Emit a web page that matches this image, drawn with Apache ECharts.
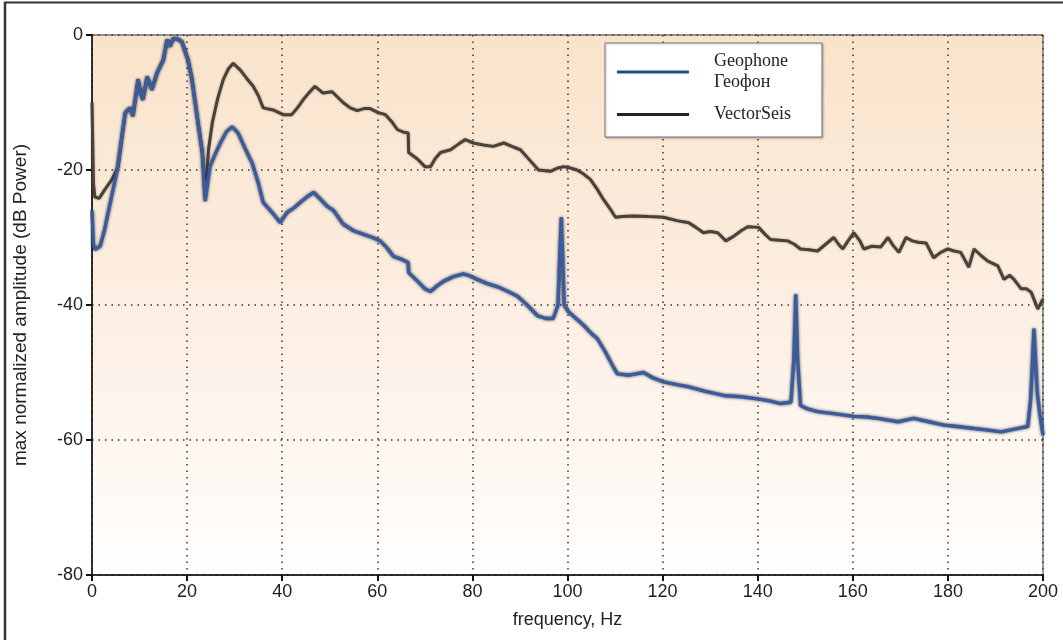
<!DOCTYPE html>
<html>
<head>
<meta charset="utf-8">
<script src="https://cdn.jsdelivr.net/npm/echarts@6/dist/echarts.min.js"></script>
<style>
html,body{margin:0;padding:0;background:#fff;}
#chart{width:1063px;height:640px;}
</style>
</head>
<body>
<div id="chart"></div>
<script>
// ---- data: [frequency Hz, dB] ----
const xTicks = [0, 20, 40, 60, 80, 100, 120, 140, 160, 180, 200];
const yTicks = [-80, -60, -40, -20, 0];
const seriesNames = ['Geophone', 'VectorSeis'];
const legendLabels = ['Geophone\nГеофон', 'VectorSeis'];

const geophone = [
[0,-26],[0.3,-31],[0.6,-31.8],[1.7,-31.3],[2.6,-29],[3.4,-26.3],[4.4,-23],[5.3,-20],[6.3,-15],[7,-11.5],[8,-10.8],[8.6,-12],[9.7,-6.6],[10.2,-8.5],[10.7,-9.6],[11.6,-6.2],[12.6,-8.1],[13.7,-5.6],[15,-3.7],[15.8,-0.7],[16.4,-1.7],[17.1,-0.5],[18,-0.6],[18.9,-1],[20.2,-3.7],[21,-6.5],[21.7,-10],[22.5,-14],[23.2,-17.4],[23.8,-24.6],[24.3,-22],[24.8,-19.5],[26,-17.5],[27,-16],[28.3,-14.3],[29.5,-13.6],[30.7,-14.5],[32.2,-16.8],[33.7,-19],[35,-22],[36,-24.8],[37.9,-26.3],[39.6,-27.8],[41,-26.3],[42.5,-25.6],[43.8,-24.8],[45.2,-24],[46.6,-23.3],[48,-24.3],[49.5,-25.4],[50.8,-26],[52.8,-28],[55,-29],[57,-29.5],[59,-30],[60.6,-30.5],[62,-31.5],[63.4,-32.8],[65,-33.2],[66.5,-33.7],[66.6,-35.2],[68.5,-36.5],[70,-37.6],[71.2,-38],[72.5,-37.2],[73.9,-36.5],[76,-35.8],[78.1,-35.4],[79.5,-35.7],[81,-36.2],[83,-36.8],[85.3,-37.3],[87.5,-38],[89.5,-38.7],[91.5,-40],[93.7,-41.6],[95.5,-42],[97,-42],[98,-40],[98.4,-32],[98.7,-27],[99,-33],[99.3,-40],[100.2,-41],[101.8,-42],[103.4,-43],[105,-44.2],[106.3,-45],[108,-47],[109.5,-49],[110.5,-50.2],[113,-50.4],[116,-50],[118,-50.8],[120.2,-51.4],[123,-51.8],[125.3,-52.1],[129,-52.8],[132.8,-53.4],[136.5,-53.6],[140,-53.9],[142.5,-54.2],[144.8,-54.6],[147,-54.4],[147.6,-48],[148,-38.4],[148.4,-48],[149,-54.9],[150.5,-55.4],[152.6,-55.8],[156,-56.1],[160.2,-56.5],[163,-56.6],[165.3,-56.8],[169.5,-57.3],[172.8,-56.8],[176,-57.3],[179.2,-57.8],[182,-58],[185.5,-58.3],[188,-58.5],[191.2,-58.8],[194,-58.4],[196.8,-58],[197.4,-54],[198.1,-43.5],[198.8,-53],[199.3,-56],[200,-59.3]
];

const vectorSeis = [
[0,-10],[0.3,-22],[0.6,-24],[1.5,-24.2],[2.7,-22.9],[4.2,-21.4],[5.5,-19.5],[6.3,-15],[7,-11.5],[8,-10.8],[8.6,-12],[9.7,-6.6],[10.2,-8.5],[10.7,-9.6],[11.6,-6.2],[12.6,-8.1],[13.7,-5.6],[15,-3.7],[15.8,-0.7],[16.4,-1.7],[17.1,-0.5],[18,-0.6],[18.9,-1],[20.2,-3.7],[21,-6.5],[21.7,-10],[22.5,-14],[23.2,-17.4],[23.8,-24],[24.5,-17],[25.3,-13],[26.4,-9.5],[27.6,-6.6],[28.7,-5],[29.7,-4.2],[31.2,-5.2],[32.5,-6.4],[33.9,-7.6],[35,-9],[36,-10.8],[38.1,-11.1],[40.2,-11.8],[42,-11.8],[43.2,-10.8],[44.4,-9.6],[45.7,-8.5],[46.9,-7.6],[48.6,-8.6],[50.5,-8.4],[52.8,-10],[54.3,-10.8],[55.8,-11.2],[57.2,-10.9],[58.5,-10.9],[60.2,-11.5],[61.7,-11.8],[63,-12.8],[64.2,-14],[65.5,-14.4],[66.5,-14.5],[66.6,-17.4],[68.5,-18.4],[70,-19.5],[71.2,-19.5],[72.2,-18.3],[73.3,-17.4],[75.4,-17],[77,-16.2],[78.5,-15.5],[80.2,-16],[82.3,-16.3],[84.4,-16.5],[86.6,-16],[88.3,-16.5],[90.1,-17],[92,-18.5],[93.9,-20],[96.4,-20.2],[98,-19.7],[99.2,-19.5],[100.6,-19.7],[102,-20],[103.4,-20.6],[104.8,-21.4],[106.2,-22.8],[107.6,-24.4],[109,-25.8],[110.1,-27],[111.5,-26.9],[113.9,-26.8],[117,-26.9],[120.2,-27],[123,-27.5],[125.5,-27.8],[127,-28.5],[128.6,-29.3],[130,-29.1],[131.6,-29.3],[133.3,-30.5],[135,-29.8],[136.5,-29],[137.9,-28.4],[140.2,-28.5],[141.5,-29.5],[142.7,-30.3],[144.5,-30.4],[146.3,-30.5],[147.7,-31],[149,-31.7],[150.8,-31.8],[152.6,-32],[154.3,-31],[156,-30],[157,-31],[157.9,-31.7],[159,-30.5],[160.2,-29.3],[161.5,-30.5],[162.3,-31.7],[164,-31.3],[165.9,-31.4],[167.4,-30],[168.5,-31.2],[169.7,-32.2],[171.2,-30],[172.5,-30.5],[173.7,-30.7],[175.4,-30.8],[177,-33],[178.5,-32.2],[180,-31.7],[181.3,-32],[182.7,-32.2],[184.4,-34.4],[185.5,-31.7],[187,-32.7],[188.4,-33.5],[190.5,-34.2],[191.8,-36.2],[193,-35.6],[193.9,-36.2],[195.4,-37.6],[196.5,-37.6],[197.5,-38.1],[198.3,-39.5],[198.9,-40.6],[199.5,-39.8],[200,-39.1]
];

const chart = echarts.init(document.getElementById('chart'), null, {renderer: 'canvas'});
const sans = 'Liberation Sans, Arial, Helvetica, sans-serif';
const serif = 'Liberation Serif, Times New Roman, serif';

const option = {
  animation: false,
  backgroundColor: '#ffffff',
  grid: {
    left: 92, right: 20, top: 35, bottom: 65,
    show: true,
    borderColor: '#333',
    borderWidth: 1,
    backgroundColor: new echarts.graphic.LinearGradient(0, 0, 0, 1, [
      {offset: 0, color: '#f9e3ca'},
      {offset: 0.45, color: '#fcede0'},
      {offset: 0.75, color: '#fef6ef'},
      {offset: 0.9, color: '#fffbf8'},
      {offset: 1, color: '#ffffff'}
    ])
  },
  legend: {
    orient: 'vertical',
    left: 605, top: 43,
    padding: [8, 31, 12, 12],
    itemGap: 11,
    itemWidth: 72,
    itemHeight: 3,
    icon: 'rect',
    backgroundColor: '#ffffff',
    borderColor: '#777',
    borderWidth: 1,
    shadowColor: 'rgba(0,0,0,0.25)',
    shadowBlur: 2,
    shadowOffsetX: 1,
    shadowOffsetY: 1,
    data: [
      {name: seriesNames[0], itemStyle: {color: '#1f4e85'}},
      {name: seriesNames[1], itemStyle: {color: '#222222'}}
    ],
    formatter: function (name) { return legendLabels[seriesNames.indexOf(name)]; },
    textStyle: {
      fontFamily: serif, fontSize: 18, lineHeight: 21, color: '#222',
      padding: [0, 0, 0, 20]
    }
  },
  xAxis: {
    type: 'value',
    min: xTicks[0], max: xTicks[xTicks.length - 1], interval: 20,
    name: 'frequency, Hz',
    nameLocation: 'middle',
    nameGap: 36,
    nameTextStyle: {fontFamily: sans, fontSize: 18, color: '#222'},
    axisLine: {show: true, onZero: false, lineStyle: {color: '#111', width: 1.5}},
    axisTick: {show: true, inside: false, length: 6, lineStyle: {color: '#111', width: 2}},
    axisLabel: {fontFamily: sans, fontSize: 18, color: '#222', margin: 8},
    splitLine: {show: true, lineStyle: {color: '#333', width: 1.5, type: [1.5, 5]}}
  },
  yAxis: {
    type: 'value',
    min: yTicks[0], max: yTicks[yTicks.length - 1], interval: 20,
    name: 'max normalized amplitude (dB Power)',
    nameLocation: 'middle',
    nameGap: 62,
    nameRotate: 90,
    nameTextStyle: {fontFamily: sans, fontSize: 19, color: '#222'},
    axisLine: {show: true, onZero: false, lineStyle: {color: '#111', width: 1.5}},
    axisTick: {show: true, inside: false, length: 6, lineStyle: {color: '#111', width: 2}},
    axisLabel: {fontFamily: sans, fontSize: 18, color: '#222', margin: 9},
    splitLine: {show: true, lineStyle: {color: '#333', width: 1.5, type: [1.5, 5]}}
  },
  graphic: [
    {type: 'line', shape: {x1: 4, y1: 2.5, x2: 1063, y2: 2.5}, style: {stroke: '#333', lineWidth: 2}, silent: true},
    {type: 'line', shape: {x1: 5, y1: 2, x2: 5, y2: 640}, style: {stroke: '#333', lineWidth: 2.5}, silent: true}
  ],
  series: [
    {
      name: seriesNames[1],
      type: 'line',
      data: vectorSeis,
      showSymbol: false,
      symbol: 'none',
      z: 2,
      itemStyle: {color: '#222222'},
      lineStyle: {color: '#4a4139', width: 3, shadowColor: 'rgba(40,30,20,0.5)', shadowBlur: 2}
    },
    {
      name: seriesNames[0],
      type: 'line',
      data: geophone,
      showSymbol: false,
      symbol: 'none',
      z: 3,
      itemStyle: {color: '#1f4e85'},
      lineStyle: {color: '#3a5c9c', width: 3.4, shadowColor: 'rgba(20,25,45,0.8)', shadowBlur: 3}
    }
  ]
};
chart.setOption(option);
</script>
</body>
</html>
